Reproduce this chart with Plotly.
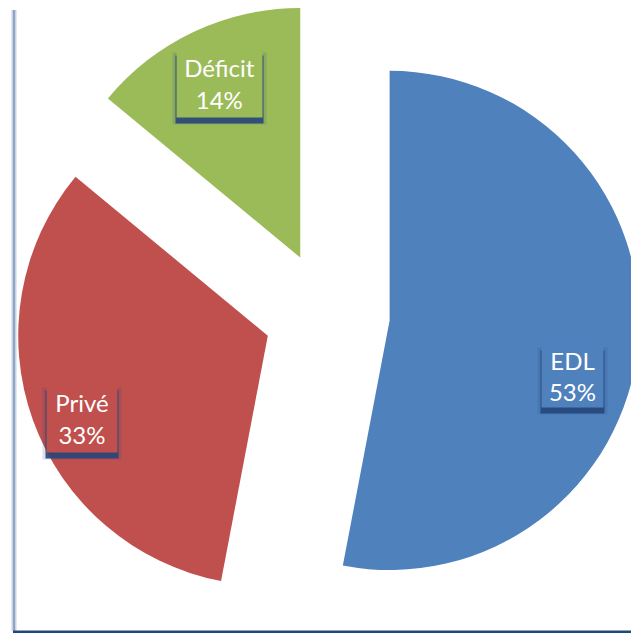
import plotly.graph_objects as go

# ---- data ----
categories = ["EDL", "Privé", "Déficit"]
values = [53, 33, 14]
colors = ["#4F81BD", "#C0504D", "#9BBB59"]

W, H = 648, 633
fig = go.Figure()

fig.add_trace(go.Pie(
    labels=categories,
    values=values,
    sort=False,
    direction="clockwise",
    rotation=0,
    pull=[0.252, 0.252, 0.252],
    marker=dict(colors=colors, line=dict(width=0)),
    textinfo="none",
    hoverinfo="label+percent",
    showlegend=False,
    domain=dict(x=[14.5 / W, 639.5 / W], y=[(H - 627) / H, (H - 2) / H]),
))

# label boxes (pixel centers and sizes)
label_pos = {"EDL": (572, 376, 53, 54), "Privé": (82, 418, 62, 59), "Déficit": (219.5, 83.5, 77, 59)}
total = sum(values)
for cat, val, col in zip(categories, values, colors):
    cx, cy, w, h = label_pos[cat]
    txt = f"{cat}<br>{round(val / total * 100)}%"
    common = dict(x=cx / W, y=1 - cy / H, xref="paper", yref="paper", showarrow=False,
                  xanchor="center", yanchor="middle",
                  width=w, height=h, borderpad=4, align="center", valign="middle",
                  font=dict(family="Lato", size=24, color="white"))
    # soft shadow
    fig.add_annotation(**{**common, "text": " ", "width": w + 8, "height": h + 4, "yshift": -5,
                          "bgcolor": "rgba(39,70,122,0.16)"})
    fig.add_annotation(**{**common, "text": " ", "width": w + 2, "yshift": -6,
                          "bgcolor": "rgba(39,70,122,0.9)"})
    fig.add_annotation(**{**common, "text": txt, "bgcolor": col})

# frame lines
fig.add_shape(type="line", xref="paper", yref="paper", x0=14 / W, x1=14 / W, y0=1 - 10 / H, y1=1 - 631 / H,
              line=dict(color="#C9D4E3", width=5))
fig.add_shape(type="line", xref="paper", yref="paper", x0=14 / W, x1=14 / W, y0=1 - 10 / H, y1=1 - 631 / H,
              line=dict(color="#8EA6C6", width=2))
fig.add_shape(type="line", xref="paper", yref="paper", x0=13 / W, x1=1, y0=1 - 632 / H, y1=1 - 632 / H,
              line=dict(color="#1F497D", width=3))

fig.update_layout(width=W, height=H, margin=dict(l=0, r=0, t=0, b=0),
                  paper_bgcolor="white", plot_bgcolor="white")

fig.write_html("out.html", config={"displayModeBar": False},
               post_script="document.body.style.margin='0';document.body.style.overflow='hidden';document.documentElement.style.overflow='hidden';")
